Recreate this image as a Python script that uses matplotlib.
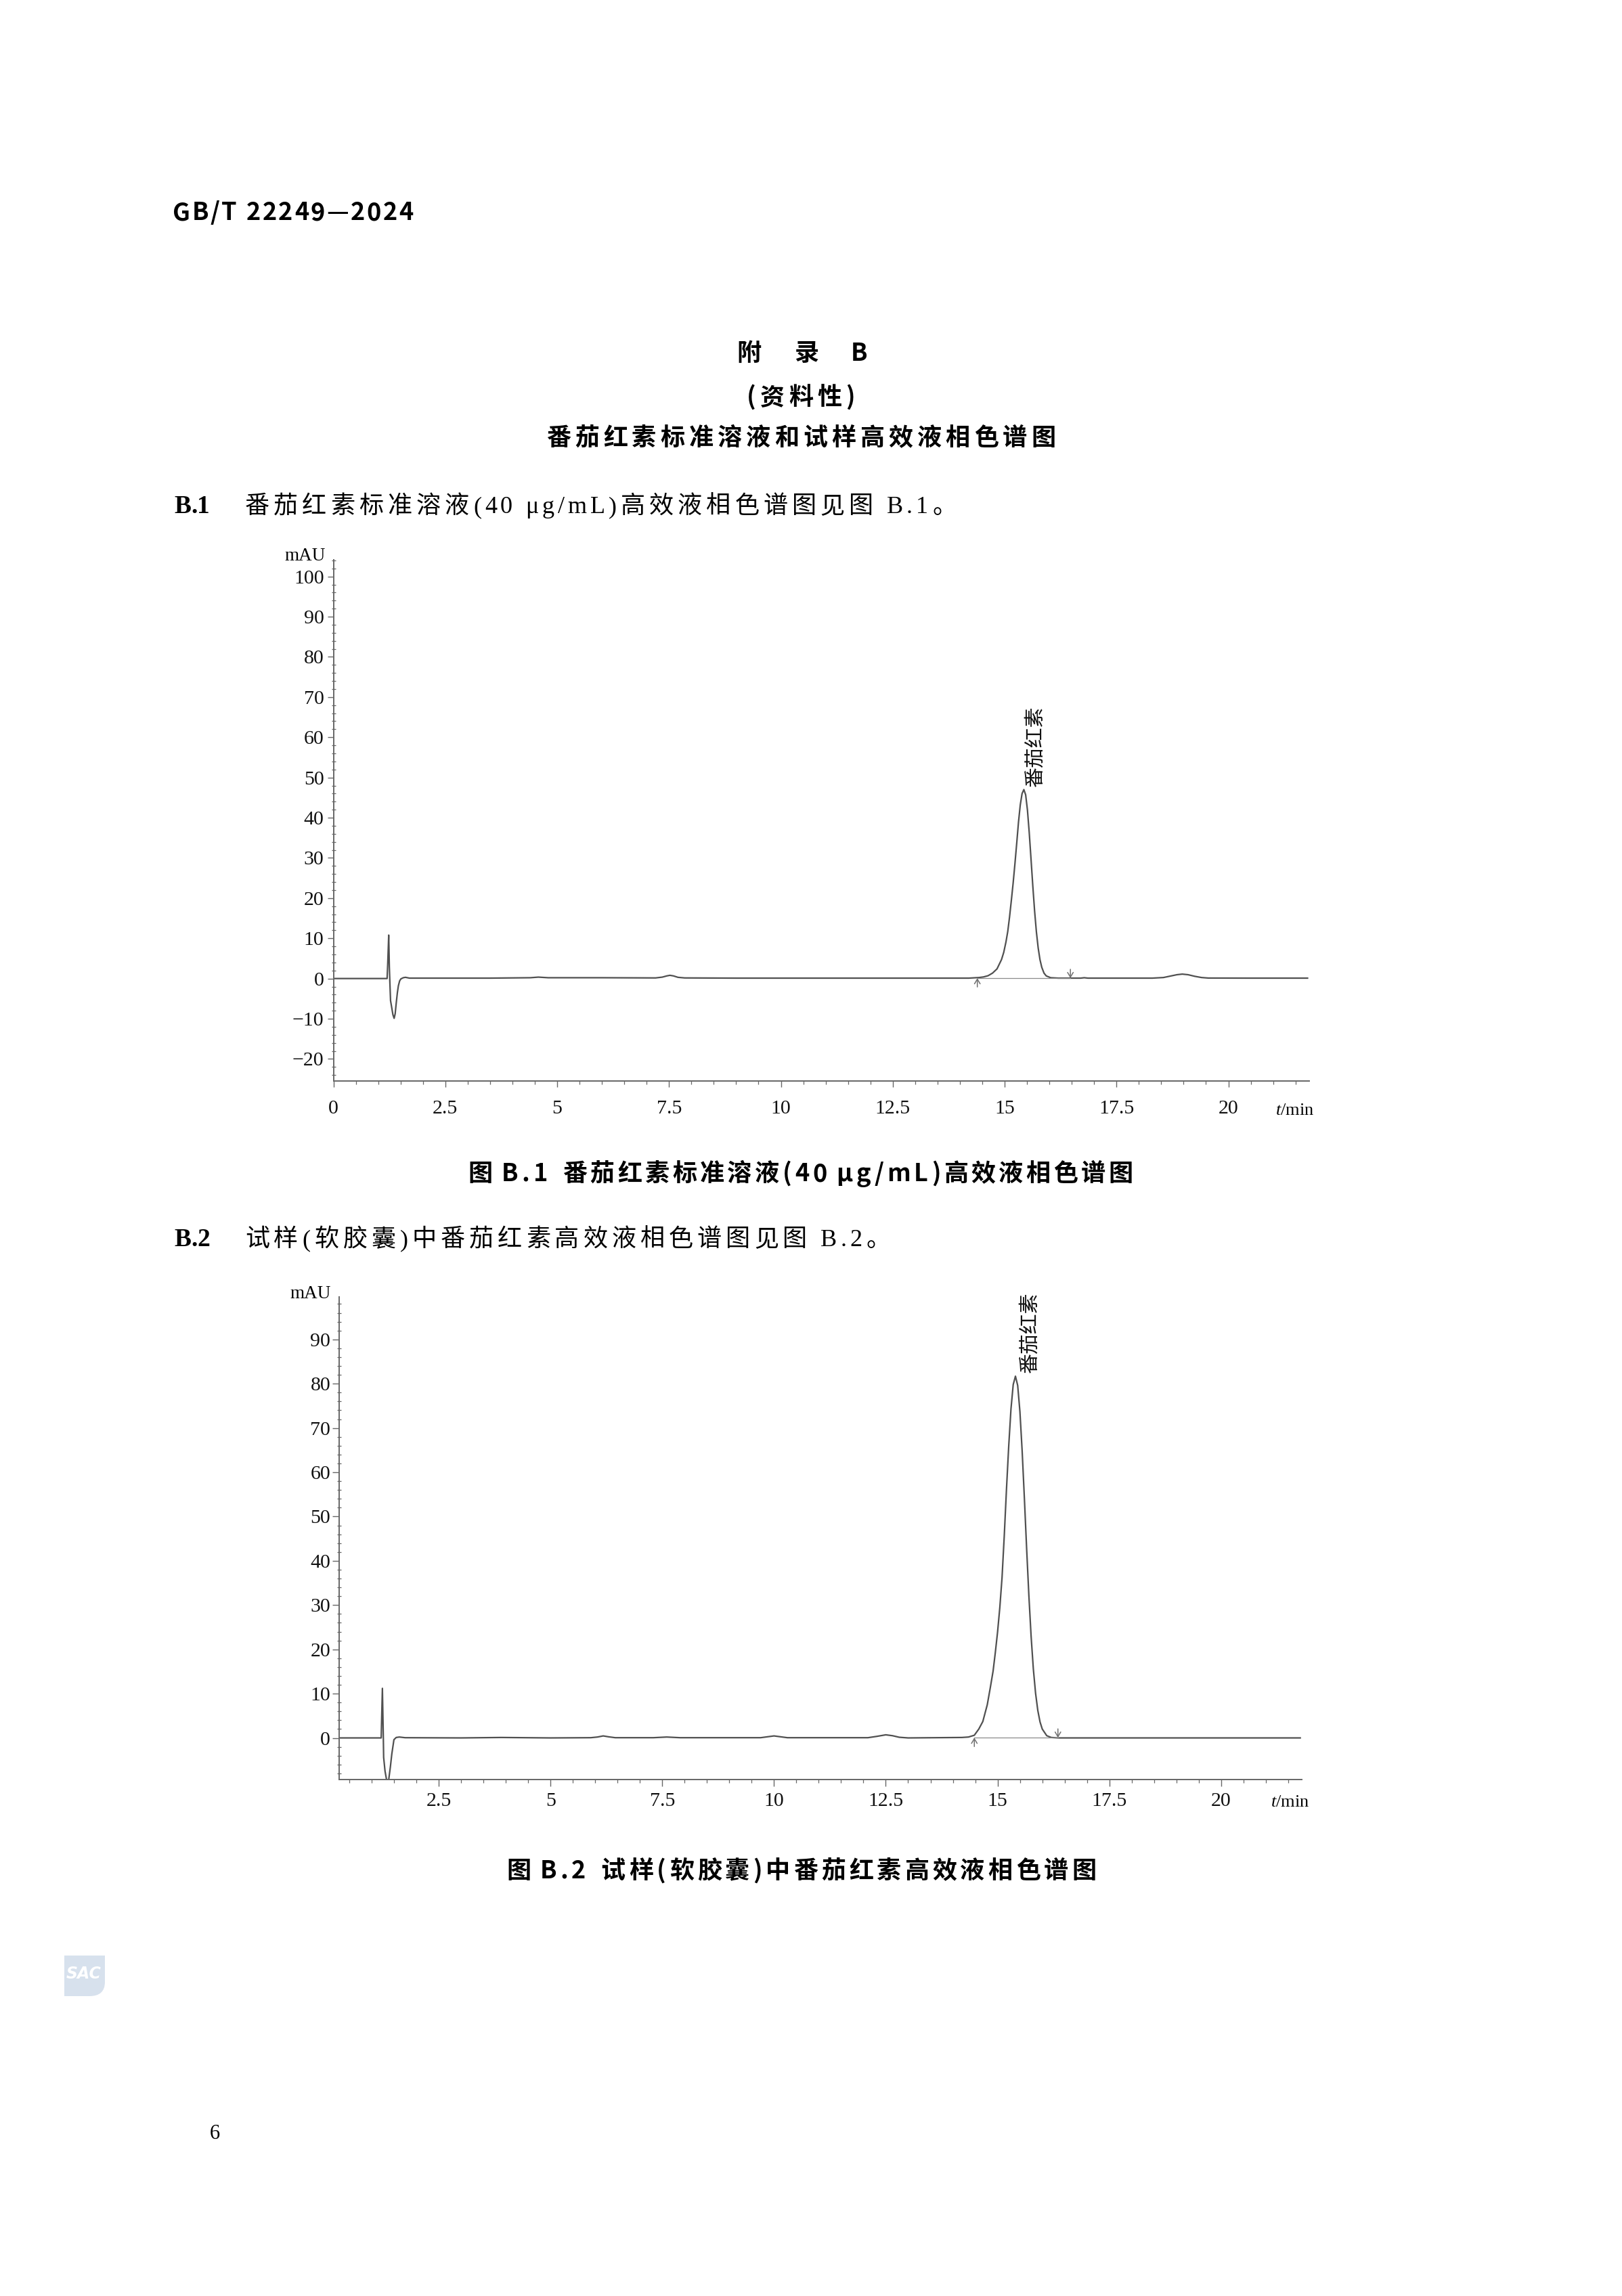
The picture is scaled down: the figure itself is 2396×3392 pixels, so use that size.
import matplotlib
matplotlib.use('Agg')
import matplotlib.pyplot as plt
from matplotlib.path import Path
import matplotlib.patches as patches
from matplotlib.ticker import MultipleLocator

W, H = 2396, 3392
CJK = ['Noto Sans CJK SC', 'DejaVu Sans']
SERIF = ['Liberation Serif', 'DejaVu Serif']

plt.rcParams['font.family'] = CJK
plt.rcParams['mathtext.fontset'] = 'custom'
plt.rcParams['mathtext.it'] = 'Liberation Serif:italic'
plt.rcParams['mathtext.rm'] = 'Liberation Serif'

# ---- figure B.1: lycopene standard (time in min, signal in mAU) ----
b1_t = [0.00, 1.20, 1.215, 1.236, 1.25, 1.262, 1.277, 1.30, 1.33, 1.357, 1.38, 1.405, 1.43, 1.452, 1.48, 1.507, 1.56, 1.61, 1.70,
        2.50, 3.50, 4.40, 4.58, 4.80, 6.00, 7.20, 7.35, 7.45, 7.52, 7.60, 7.70, 7.85, 9.00, 11.0, 13.5, 14.2,
        14.43, 14.53, 14.63, 14.73, 14.83, 14.93, 14.98, 15.03, 15.07, 15.11, 15.15, 15.19, 15.23, 15.27, 15.31, 15.35, 15.39, 15.43,
        15.47, 15.51, 15.55, 15.59, 15.63, 15.67, 15.71, 15.75, 15.79, 15.83, 15.88, 15.93, 16.03, 16.20,
        16.70, 16.78, 16.86, 17.50, 18.30, 18.55, 18.70, 18.85, 18.97, 19.10, 19.25, 19.40, 19.55, 20.5, 21.77]
b1_mau = [0.00, 0.00, 4.0, 10.8, 3.0, -1.0, -5.5, -7.0, -9.0, -9.9, -8.8, -6.0, -3.5, -1.8, -0.6, -0.1, 0.2, 0.3, 0.1,
          0.1, 0.1, 0.2, 0.35, 0.2, 0.2, 0.15, 0.35, 0.65, 0.8, 0.65, 0.3, 0.15, 0.1, 0.1, 0.1, 0.1,
          0.25, 0.4, 0.7, 1.35, 2.4, 4.7, 6.5, 9.1, 11.7, 15.3, 19.4, 23.7, 28.5, 33.6, 38.9, 43.2, 46.0, 47.0,
          45.7, 41.9, 36.3, 29.7, 23.0, 16.8, 11.6, 7.6, 4.7, 2.8, 1.35, 0.65, 0.2, 0.1,
          0.1, 0.2, 0.1, 0.1, 0.1, 0.25, 0.6, 0.95, 1.1, 0.95, 0.55, 0.25, 0.12, 0.1, 0.1]
b1_marks = [14.39, 16.47]
b1_label_at = (15.68, 47.8)

# ---- figure B.2: soft capsule sample ----
b2_t = [0.28, 1.214, 1.241, 1.262, 1.269, 1.30, 1.337, 1.355, 1.37, 1.384, 1.42, 1.452, 1.499, 1.55, 1.62, 1.75,
        3.0, 3.9, 5.0, 5.9, 6.05, 6.18, 6.3, 6.45, 7.3, 7.6, 7.9, 9.7, 9.85, 10.0, 10.15, 10.3, 12.1, 12.3, 12.5, 12.65, 12.8, 13.0, 14.2,
        14.35, 14.48, 14.58, 14.67, 14.77, 14.84, 14.90, 14.95, 15.00, 15.05, 15.10, 15.15, 15.20, 15.25, 15.30, 15.35, 15.40,
        15.45, 15.50, 15.55, 15.60, 15.65, 15.70, 15.75, 15.80, 15.85, 15.90, 15.95, 16.00, 16.10, 16.20,
        16.35, 18.0, 20.0, 21.77]
b2_mau = [0.0, 0.0, 11.2, 0.0, -4.4, -7.5, -9.6, -10.5, -10.0, -9.3, -6.5, -3.6, -0.4, 0.1, 0.2, 0.05,
          0.0, 0.1, 0.0, 0.05, 0.2, 0.45, 0.25, 0.05, 0.05, 0.2, 0.05, 0.05, 0.25, 0.45, 0.25, 0.05, 0.05, 0.35, 0.7, 0.5, 0.15, 0.0, 0.1,
          0.2, 0.6, 2.0, 3.7, 7.5, 11.5, 15.1, 19.3, 23.9, 29.4, 36.2, 45.7, 56.3, 66.0, 74.3, 79.8, 81.7,
          79.6, 73.7, 64.8, 54.1, 42.8, 32.2, 23.0, 15.6, 10.1, 6.2, 3.6, 2.0, 0.5, 0.1,
          0.0, 0.0, 0.0, 0.0]
b2_marks = [14.48, 16.35]
b2_label_at = (15.72, 82.5)

peak_name = '番茄红素'
b1_xticks = [0, 2.5, 5, 7.5, 10, 12.5, 15, 17.5, 20]
b1_xlabels = ['0', '2.5', '5', '7.5', '10', '12.5', '15', '17.5', '20']
b2_xticks = [2.5, 5, 7.5, 10, 12.5, 15, 17.5, 20]
b2_xlabels = ['2.5', '5', '7.5', '10', '12.5', '15', '17.5', '20']
b1_yticks = [-20, -10, 0, 10, 20, 30, 40, 50, 60, 70, 80, 90, 100]
b2_yticks = [0, 10, 20, 30, 40, 50, 60, 70, 80, 90]

fig = plt.figure(figsize=(W / 100, H / 100), dpi=100)
fig.patch.set_facecolor('white')


def is_latin(ch):
    return ord(ch) < 0x2e80


def page_text(x, y, s, size, weight='normal', gap=0.0, lgap=None, space=0.25, serif=False, ha='left'):
    # x, y in page pixels, y is the baseline; characters set one by one.
    # between two latin characters the extra spacing is `lgap`, otherwise `gap`
    if lgap is None:
        lgap = gap
    r = fig.canvas.get_renderer()
    em = size * fig.dpi / 72
    parts = []
    for i, ch in enumerate(s):
        nxt = s[i + 1] if i + 1 < len(s) else ''
        extra = lgap if (is_latin(ch) and nxt and is_latin(nxt)) else gap
        if ch == ' ':
            parts.append((None, space * em + extra))
            continue
        fam = SERIF + CJK if (serif and is_latin(ch)) else CJK
        t = fig.text(0, 0, ch, fontsize=size, fontweight=weight, family=fam, va='baseline', ha='left')
        parts.append((t, t.get_window_extent(r).width + extra))
    total = sum(w for _, w in parts)
    if ha == 'center':
        x -= total / 2
    for t, w in parts:
        if t is not None:
            t.set_position((x / W, 1 - y / H))
        x += w


def chrom(box, t, mau, xlim, ylim, xticks, xlabels, yticks, marks, base, arrow, label_at, xpad, ypad, ticklen):
    left, top, right, bottom = box
    ax = fig.add_axes([left / W, 1 - bottom / H, (right - left) / W, (bottom - top) / H])
    ax.plot(t, mau, color='#505050', lw=1.6, solid_joinstyle='round')
    ax.plot(marks, [base, base], color='#8a8a8a', lw=0.9)
    arr = dict(arrowstyle='->,head_length=0.5,head_width=0.3', color='#707070', lw=1.1, shrinkA=0, shrinkB=0)
    ax.annotate('', xy=(marks[0], base), xytext=(marks[0], base - arrow), arrowprops=arr)
    ax.annotate('', xy=(marks[1], base), xytext=(marks[1], base + arrow), arrowprops=arr)
    ax.text(label_at[0], label_at[1], peak_name, rotation=90, ha='center', va='bottom',
            fontsize=21.5, family=CJK, color='#111111')
    ax.set_xlim(*xlim)
    ax.set_ylim(*ylim)
    ax.set_xticks(xticks, xlabels)
    ax.set_yticks(yticks)
    ax.xaxis.set_minor_locator(MultipleLocator(0.5))
    ax.yaxis.set_minor_locator(MultipleLocator(2))
    for s in ['top', 'right']:
        ax.spines[s].set_visible(False)
    for s in ['left', 'bottom']:
        ax.spines[s].set_color('#666666')
        ax.spines[s].set_linewidth(1.4)
    ax.tick_params(which='major', direction='out', length=ticklen, width=1, color='#666666',
                   labelsize=21.5, labelcolor='#111111')
    ax.tick_params(axis='x', which='minor', direction='out', length=3.6, width=0.9, color='#666666')
    ax.tick_params(axis='y', which='minor', direction='inout', length=5, width=0.9, color='#666666')
    ax.tick_params(axis='x', which='major', pad=xpad)
    ax.tick_params(axis='y', which='major', pad=ypad)
    for lab in ax.get_xticklabels() + ax.get_yticklabels():
        lab.set_family(SERIF)
    return ax


# page header and annex title
page_text(255, 325, 'GB/T 22249—2024', 26, 'bold', gap=2.5)
page_text(1188, 533, '附　录　B', 26, 'bold', gap=6, ha='center')
page_text(1186, 598, '(资料性)', 26, 'bold', gap=6, ha='center')
page_text(1186, 658, '番茄红素标准溶液和试样高效液相色谱图', 26, 'bold', gap=6, ha='center')

# B.1
page_text(257, 758, 'B.1', 27, 'bold', gap=0, serif=True)
page_text(362, 758, '番茄红素标准溶液(40 μg/mL)高效液相色谱图见图 B.1。', 26, gap=6, lgap=5, serif=True)

chrom((492.5, 827.3, 1933.5, 1596.5), b1_t, b1_mau, (0, 21.8), (-25.4, 104.1),
      b1_xticks, b1_xlabels, b1_yticks, b1_marks, 0.1, 2.2, b1_label_at, 14, 3.5, 6.5)
fig.text(481 / W, 1 - 828 / H, 'mAU', ha='right', va='baseline', fontsize=19.5, family=SERIF)
fig.text(1941 / W, 1 - 1647 / H, r'$\mathit{t}$/min', ha='right', va='baseline', fontsize=19, family=SERIF)

page_text(1185, 1745, '图 B.1  番茄红素标准溶液(40 μg/mL)高效液相色谱图', 26, 'bold', gap=4.5, lgap=5, space=0.1, ha='center')

# B.2
page_text(257, 1841, 'B.2', 27, 'bold', gap=0, serif=True)
page_text(362, 1841, '试样(软胶囊)中番茄红素高效液相色谱图见图 B.2。', 26, gap=6, lgap=5, serif=True)

chrom((501.4, 1916, 1922.7, 2629), b2_t, b2_mau, (0.28, 21.8), (-9.4, 99.6),
      b2_xticks, b2_xlabels, b2_yticks, b2_marks, 0.05, 2.0, b2_label_at, 7, 2.5, 7)
fig.text(489 / W, 1 - 1918 / H, 'mAU', ha='right', va='baseline', fontsize=19.5, family=SERIF)
fig.text(1934 / W, 1 - 2669 / H, r'$\mathit{t}$/min', ha='right', va='baseline', fontsize=19, family=SERIF)

page_text(1186, 2775, '图 B.2  试样(软胶囊)中番茄红素高效液相色谱图', 26, 'bold', gap=5, lgap=5, space=0.1, ha='center')

# SAC mark
logo = fig.add_axes([95 / W, 1 - 2949 / H, 60 / W, 60 / H])
logo.set_xlim(0, 1)
logo.set_ylim(0, 1)
logo.axis('off')
verts = [(0, 0), (0, 1), (1, 1), (1, 0.35), (1, 0), (0.62, 0), (0, 0)]
codes = [Path.MOVETO, Path.LINETO, Path.LINETO, Path.LINETO, Path.CURVE3, Path.CURVE3, Path.CLOSEPOLY]
logo.add_patch(patches.PathPatch(Path(verts, codes), facecolor='#d7e1ed', edgecolor='none'))
logo.text(0.48, 0.55, 'SAC', ha='center', va='center', color='white', fontsize=17,
          fontweight='bold', fontstyle='italic', family='DejaVu Sans')

# page number
fig.text(317 / W, 1 - 3160 / H, '6', ha='center', va='baseline', fontsize=22, family=SERIF)

fig.savefig('out.png', dpi=100, facecolor='white')
